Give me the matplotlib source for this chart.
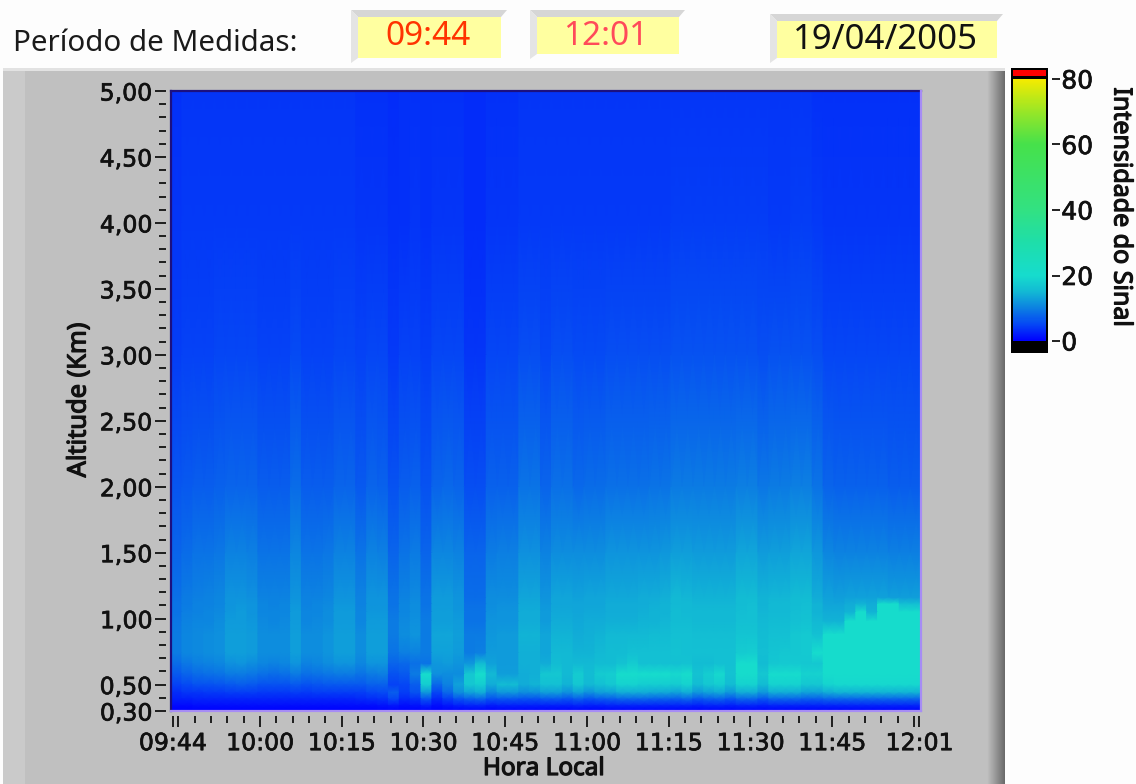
# plot.py - perfil de intensidade do sinal (painel de medidas 19/04/2005)
import numpy as np
import matplotlib
matplotlib.use('Agg')
import matplotlib.pyplot as plt
import matplotlib.patheffects as pe
from matplotlib.colors import LinearSegmentedColormap
from matplotlib.patches import Rectangle, Polygon

W, H = 1136, 784

# altitudes (km) das linhas da grade, de cima para baixo
altitudes = [5.0, 4.0, 3.0, 2.0, 1.5, 1.16, 1.11, 1.05, 0.98, 0.88, 0.74, 0.66, 0.58, 0.50, 0.44, 0.39, 0.34, 0.30]

# intensidade por coluna de ~2 min
a500 = [3.7,3.8,3.8,3.8,3.9,3.9,3.9,3.9,3.8,3.8,
        3.8,3.9,3.8,3.8,3.8,3.8,3.8,3.7,3.7,3.6,
        3.4,3.5,3.5,3.5,3.7,3.7,3.6,3.2,3.2,3.6,
        3.7,3.7,3.8,3.8,3.8,3.9,3.9,3.8,3.8,3.9,
        3.9,3.9,3.9,3.9,3.9,3.9,3.9,3.9,3.9,3.9,
        3.9,3.9,3.9,3.9,3.9,3.8,3.8,3.8,3.8,3.7,
        3.6,3.6,3.5,3.5,3.5,3.5,3.5,3.5,3.5]
a400 = [4.0,4.1,4.1,4.1,4.2,4.3,4.3,4.2,4.1,4.1,
        4.1,4.3,4.1,4.1,4.1,4.2,4.2,4.0,4.0,3.9,
        3.6,3.7,3.8,3.7,4.0,4.0,3.9,3.3,3.3,3.9,
        4.0,4.0,4.2,4.2,4.1,4.3,4.3,4.2,4.2,4.3,
        4.3,4.3,4.3,4.3,4.3,4.3,4.4,4.4,4.4,4.4,
        4.4,4.4,4.4,4.4,4.4,4.3,4.3,4.4,4.4,4.2,
        4.0,4.0,3.9,3.9,3.9,3.9,3.9,3.9,3.9]
a300 = [4.6,4.8,4.9,4.9,5.0,5.3,5.3,5.2,4.9,4.9,
        4.9,5.4,4.9,4.9,4.9,5.2,5.2,4.8,5.1,5.0,
        4.3,4.7,4.8,4.6,5.2,5.2,5.0,4.0,4.0,5.0,
        5.2,5.2,5.8,5.8,5.3,5.7,5.7,5.5,5.5,5.6,
        5.7,5.7,5.7,5.7,5.8,5.8,6.0,6.0,6.0,6.0,
        6.0,6.0,6.2,6.2,5.9,6.0,6.0,6.2,6.2,5.8,
        5.2,5.2,5.0,5.0,5.0,5.0,5.0,5.0,5.0]
a200 = [6.3,6.8,7.0,7.0,7.2,7.8,7.8,7.6,7.0,7.0,
        7.0,8.2,7.0,7.0,7.0,7.8,7.8,6.8,7.6,7.4,
        6.0,7.0,7.3,6.2,7.8,8.0,7.6,5.8,5.8,7.2,
        7.4,7.4,8.8,8.8,7.6,8.6,8.6,8.0,8.2,8.4,
        8.6,8.6,8.6,8.6,8.8,8.8,9.4,9.4,9.4,9.4,
        9.4,9.4,9.8,9.8,9.2,9.4,9.4,9.8,9.8,9.0,
        7.6,7.4,7.2,7.2,7.2,7.2,7.0,7.0,7.0]
a150 = [7.6,8.4,8.8,9.0,9.2,10.2,10.2,9.8,9.0,8.8,
        9.0,10.6,9.0,9.0,9.2,10.2,10.2,8.8,10.0,9.8,
        7.6,9.0,9.4,7.8,10.6,10.6,10.0,7.6,7.6,9.4,
        9.8,9.8,11.4,11.4,10.0,11.0,11.0,11.0,11.2,11.2,
        11.6,11.6,11.6,11.8,11.8,12.0,12.8,12.6,12.4,12.4,
        12.4,12.4,13.2,13.2,12.4,12.6,12.6,13.2,13.4,12.0,
        10.6,10.2,10.2,10.0,10.0,10.0,9.8,9.8,9.8]
a116 = [8.6,9.4,9.8,10.0,10.4,11.6,11.8,11.4,10.2,10.0,
        10.2,11.8,10.0,10.2,10.6,11.8,11.8,10.0,11.6,11.6,
        8.8,10.2,10.8,8.8,12.2,12.2,11.6,8.4,8.4,11.0,
        11.2,11.2,13.4,13.4,11.8,13.2,13.2,13.0,13.2,13.2,
        13.6,13.6,13.6,13.8,14.0,14.2,15.0,14.8,14.6,14.6,
        14.6,14.6,15.4,15.6,14.4,14.8,14.8,15.4,15.6,14.0,
        13.0,12.6,13.0,13.0,13.0,13.0,12.8,12.6,12.6]
a111 = [8.8,9.6,10.0,10.2,10.6,11.8,12.0,11.6,10.4,10.2,
        10.4,12.0,10.2,10.4,10.8,12.0,12.0,10.2,11.8,11.8,
        9.0,10.4,11.0,9.0,12.4,12.4,11.8,8.6,8.6,11.2,
        11.4,11.4,13.6,13.6,12.0,13.4,13.4,13.2,13.4,13.4,
        13.8,13.8,13.8,14.0,14.2,14.4,15.2,15.0,14.8,14.8,
        14.8,14.8,15.6,15.8,14.6,15.0,15.0,15.6,15.8,14.4,
        13.4,13.4,14.0,14.4,14.0,20.5,20.5,16.0,16.0]
a105 = [9.0,9.8,10.2,10.4,10.8,12.0,12.2,11.8,10.6,10.4,
        10.6,12.2,10.4,10.6,11.0,12.2,12.2,10.4,12.0,12.0,
        9.2,10.6,11.2,9.2,12.6,12.6,12.0,8.8,8.8,11.4,
        11.6,11.6,13.8,13.8,12.2,13.6,13.6,13.4,13.6,13.6,
        14.0,14.0,14.0,14.2,14.4,14.6,15.4,15.2,15.0,15.0,
        15.0,15.0,15.8,16.0,14.8,15.2,15.2,15.8,16.0,14.6,
        13.8,13.8,14.6,20.5,14.6,20.5,20.5,20.5,20.5]
a098 = [9.2,10.0,10.4,10.6,11.0,12.2,12.4,12.0,10.8,10.6,
        10.8,12.4,10.6,10.8,11.2,12.4,12.4,10.6,12.2,12.2,
        9.4,10.8,11.4,9.4,12.8,12.8,12.2,9.0,9.0,11.6,
        11.8,11.8,14.0,14.0,12.4,13.8,13.8,13.6,13.8,13.8,
        14.2,14.2,14.2,14.4,14.6,14.8,15.6,15.4,15.2,15.2,
        15.2,15.2,16.0,16.2,15.0,15.4,15.4,16.2,16.4,15.2,
        14.4,14.4,20.5,20.5,20.5,20.5,20.5,20.5,20.5]
a088 = [9.6,10.4,10.8,11.0,11.4,12.6,12.8,12.4,11.2,11.0,
        11.2,12.8,11.0,11.2,11.6,12.8,12.8,11.0,12.6,12.6,
        9.6,11.2,11.8,9.6,13.2,13.2,12.6,9.4,9.4,12.0,
        12.2,12.2,14.4,14.4,13.2,14.6,14.6,14.0,14.2,14.4,
        15.0,15.0,15.2,15.2,15.4,15.6,16.2,16.0,15.8,15.8,
        15.8,15.8,16.6,16.8,15.6,16.0,16.2,17.0,17.4,16.2,
        20.0,20.0,20.5,20.5,20.5,20.5,20.5,20.5,20.5]
a074 = [9.6,10.4,10.8,11.0,11.4,12.6,12.8,12.4,11.2,11.0,
        11.2,12.8,11.0,11.2,11.6,12.8,12.8,11.0,12.6,12.6,
        9.0,9.8,10.2,9.4,13.0,13.0,12.4,9.4,9.8,12.2,
        12.4,12.4,14.2,14.2,13.4,15.0,15.0,14.4,14.6,15.0,
        15.4,15.6,16.0,16.0,16.0,16.2,16.4,16.2,16.0,16.0,
        16.0,16.2,17.8,18.0,15.8,16.6,17.0,17.0,17.4,20.0,
        20.5,20.5,20.5,20.5,20.5,20.5,20.5,20.5,20.5]
a066 = [8.2,9.2,9.8,10.2,10.6,11.4,11.6,11.2,10.4,10.2,
        10.4,11.6,10.2,10.4,11.0,11.6,11.6,10.4,11.6,11.8,
        7.6,8.0,8.6,8.8,12.0,12.2,11.6,12.0,15.5,13.0,
        12.4,12.4,14.2,14.2,14.0,15.4,15.2,15.0,15.0,15.4,
        15.6,16.5,17.5,16.0,16.0,16.2,16.0,16.5,15.6,15.6,
        16.0,16.2,20.0,20.0,15.6,17.0,17.2,17.2,17.0,17.0,
        20.5,20.5,20.5,20.5,20.5,20.5,20.5,20.5,20.5]
a058 = [6.6,7.6,8.2,8.6,8.8,9.4,9.6,9.2,8.6,8.4,
        8.6,9.6,8.6,8.8,9.2,9.6,9.6,8.8,9.6,9.8,
        6.2,6.6,9.6,20.0,11.5,11.0,11.2,17.0,20.0,15.0,
        12.6,12.6,14.0,14.2,17.0,17.0,15.0,17.5,15.5,17.8,
        18.0,20.5,20.5,20.0,20.0,20.0,19.5,20.5,16.5,18.0,
        19.5,16.5,20.5,20.5,17.0,20.0,20.0,20.0,18.5,18.5,
        20.5,20.5,20.5,20.5,20.5,20.5,20.5,20.5,20.5]
a050 = [4.8,5.6,6.0,6.2,6.4,6.8,7.0,6.8,6.2,6.0,
        6.2,6.8,6.2,6.4,6.6,6.8,6.8,6.6,7.2,7.4,
        4.8,5.0,7.0,18.0,8.0,10.0,13.0,17.0,18.0,14.0,
        15.5,15.5,14.0,14.5,16.0,16.0,14.5,17.0,15.0,16.0,
        17.0,18.5,18.5,18.0,18.0,18.0,17.5,18.5,15.5,17.0,
        18.0,15.5,18.5,18.5,15.5,18.5,18.5,18.5,17.0,17.0,
        19.0,19.5,19.5,19.5,19.5,19.5,19.5,19.5,19.5]
a044 = [3.4,3.8,4.0,4.2,4.2,4.4,4.4,4.4,4.2,4.2,
        4.2,4.4,4.2,4.4,4.4,4.4,4.4,4.6,5.0,5.6,
        7.0,4.4,6.0,12.0,5.0,8.0,11.0,13.0,14.0,10.5,
        12.0,12.0,11.0,11.5,12.5,12.5,11.5,13.0,11.5,12.5,
        13.0,14.0,14.0,14.0,13.5,13.5,13.0,14.0,12.0,13.0,
        13.5,12.0,14.0,14.0,12.0,14.0,14.0,14.0,13.0,13.0,
        14.0,14.5,14.5,14.5,14.5,14.5,14.5,14.5,14.5]
a039 = [2.2,2.4,2.6,2.6,2.7,2.8,2.8,2.8,2.6,2.6,
        2.6,2.8,2.6,2.8,2.8,2.8,2.8,2.9,3.2,3.6,
        5.0,3.0,3.6,6.0,3.0,4.5,6.0,7.0,7.5,6.0,
        6.5,6.5,6.0,6.2,6.8,6.8,6.2,7.0,6.2,6.8,
        7.0,7.5,7.5,7.5,7.2,7.2,7.0,7.5,6.5,7.0,
        7.2,6.5,7.5,7.5,6.5,7.5,7.5,7.5,7.0,7.0,
        7.5,7.5,7.8,7.8,7.8,7.8,7.8,7.8,7.8]
a034 = [0.9,0.9,1.0,1.0,1.0,1.1,1.1,1.1,1.0,1.0,
        1.0,1.1,1.0,1.1,1.1,1.1,1.1,1.1,1.2,1.3,
        1.8,1.1,1.4,2.2,1.2,1.8,2.2,2.6,2.6,2.0,
        2.4,2.4,2.2,2.2,2.4,2.4,2.2,2.5,2.2,2.4,
        2.5,2.6,2.6,2.6,2.5,2.5,2.5,2.6,2.4,2.5,
        2.5,2.4,2.6,2.6,2.4,2.6,2.6,2.6,2.5,2.5,
        2.6,2.6,2.8,2.8,2.8,2.8,2.8,2.8,2.8]
a030 = [0.2,0.2,0.2,0.2,0.2,0.2,0.2,0.2,0.2,0.2,
        0.2,0.2,0.2,0.2,0.2,0.2,0.2,0.2,0.2,0.2,
        0.3,0.2,0.2,0.3,0.2,0.3,0.3,0.3,0.3,0.3,
        0.3,0.3,0.3,0.3,0.3,0.3,0.3,0.3,0.3,0.3,
        0.3,0.3,0.3,0.3,0.3,0.3,0.3,0.3,0.3,0.3,
        0.3,0.3,0.3,0.3,0.3,0.3,0.3,0.3,0.3,0.3,
        0.3,0.3,0.3,0.3,0.3,0.3,0.3,0.3,0.3]
linhas = [a500, a400, a300, a200, a150, a116, a111, a105, a098, a088,
          a074, a066, a058, a050, a044, a039, a034, a030]

y_ticks = [0.3, 0.5, 1.0, 1.5, 2.0, 2.5, 3.0, 3.5, 4.0, 4.5, 5.0]
y_labels = ['0,30', '0,50', '1,00', '1,50', '2,00', '2,50', '3,00', '3,50', '4,00', '4,50', '5,00']
x_labels = ['09:44', '10:00', '10:15', '10:30', '10:45', '11:00', '11:15', '11:30', '11:45', '12:01']
cb_ticks = [0, 20, 40, 60, 80]

def minutos(s):
    h, m = s.split(':')
    return int(h)*60 + int(m)

cmap = LinearSegmentedColormap.from_list('sinal', [
    (0/80, (0, 0, 1)), (5/80, (5/255, 70/255, 245/255)), (10/80, (12/255, 130/255, 225/255)),
    (15/80, (18/255, 185/255, 212/255)), (20/80, (22/255, 220/255, 205/255)),
    (30/80, (30/255, 222/255, 170/255)), (40/80, (50/255, 225/255, 130/255)),
    (60/80, (70/255, 225/255, 75/255)), (70/80, (150/255, 230/255, 40/255)),
    (80/80, (245/255, 235/255, 0))])

fig = plt.figure(figsize=(W/100, H/100), dpi=100, facecolor='#fdfdfd')
grosso = [pe.withStroke(linewidth=0.5, foreground='#111111')]
negrito = [pe.withStroke(linewidth=0.9, foreground='#111111')]

def px_axes(x0, y0, x1, y1):
    return fig.add_axes([x0/W, 1-y1/H, (x1-x0)/W, (y1-y0)/H])

# fundo do painel, em pixels
bg = fig.add_axes([0, 0, 1, 1], zorder=-1)
bg.set_xlim(0, W)
bg.set_ylim(H, 0)
bg.axis('off')
bg.add_patch(Rectangle((3, 68), 1002, H-68, color='#c0c0c0', lw=0))
bg.add_patch(Rectangle((3, 68), 1002, 3, color='#e2e2e2', lw=0))
bg.add_patch(Rectangle((3, 71), 22, H-71, color='#cacaca', lw=0))
for i, g in enumerate(np.linspace(0.75, 0.42, 18)):
    bg.add_patch(Rectangle((987+i, 71), 1.2, H-71, color=str(g), lw=0))

def caixa(x0, y0, x1, y1):
    bg.add_patch(Polygon([(x0-7, y0-7), (x1+6, y0-7), (x1, y0), (x0, y0)], color='#d6d6d6', lw=0))
    bg.add_patch(Polygon([(x0-7, y0-7), (x0, y0), (x0, y1), (x0-7, y1+5)], color='#e4e4e4', lw=0))
    bg.add_patch(Rectangle((x0, y0), x1-x0, y1-y0, color='#ffffa0', lw=0))

caixa(358, 17, 501, 58)
caixa(537, 17, 679, 54)
caixa(777, 21, 997, 58)
bg.text(13, 43, 'Período de Medidas:', fontsize=21.3, family='Noto Sans', color='#1a1a1a', ha='left', va='center')
bg.text(428, 36, '09:44', fontsize=24, family='Noto Sans', color='#ff3300', ha='center', va='center')
bg.text(606, 36, '12:01', fontsize=24, family='Noto Sans', color='#ff4a5a', ha='center', va='center')
bg.text(885, 40, '19/04/2005', fontsize=25, family='Noto Sans', color='#111111', ha='center', va='center')

# grafico principal
ax = px_axes(171, 91, 921, 711)
x_min, x_max = 583.67, 721.3
bordas = np.linspace(x_min, x_max, len(a500)+1)
X = np.repeat(bordas, 2)[1:-1]
Z = np.repeat(np.array(linhas), 2, axis=1)
mesh = ax.pcolormesh(X, np.array(altitudes), Z, cmap=cmap, vmin=0, vmax=80, shading='gouraud')
ax.set_xlim(x_min, x_max)
ax.set_ylim(0.3, 5.0)

ax.spines['left'].set_position(('outward', 3.5))
ax.spines['bottom'].set_position(('outward', 3.5))
for s in ax.spines.values():
    s.set_visible(False)
ax.plot([x_min, x_min], [0.3, 5.0], color='#1c1080', lw=1.6, clip_on=False)
ax.plot([x_min, x_max], [5.0, 5.0], color='#1c1080', lw=1.6, clip_on=False)
ax.plot([x_max, x_max], [0.3, 5.0], color='#a68cf5', lw=1.6, clip_on=False)
ax.plot([x_min, x_max], [0.3, 0.3], color='#a68cf5', lw=1.6, clip_on=False)

ax.set_yticks(y_ticks)
ax.set_yticklabels(y_labels)
ax.set_yticks(np.arange(0.4, 5.0, 0.1), minor=True)
x_pos = [minutos(s) for s in x_labels]
ax.set_xticks(x_pos + [minutos('09:45'), minutos('12:00')])
ax.set_xticklabels(x_labels + ['', ''])
ax.set_xticks(np.arange(minutos('09:48'), minutos('12:00'), 3), minor=True)
ax.tick_params(axis='both', which='major', length=8, width=1.3, labelsize=17, color='#111111', labelcolor='#111111')
ax.tick_params(axis='both', which='minor', length=5, width=1.3, color='#111111')
ax.tick_params(axis='y', which='major', pad=2)
ax.tick_params(axis='x', which='major', pad=3)
for t in ax.get_xticklabels() + ax.get_yticklabels():
    t.set_path_effects(grosso)
bg.text(544, 769, 'Hora Local', fontsize=17.5, color='#111111', ha='center', va='center', family='Noto Sans', path_effects=negrito)
bg.text(79, 400, 'Altitude (Km)', fontsize=18.3, color='#111111', rotation=90, ha='center', va='center', family='Noto Sans', path_effects=negrito)

# barra de cores
bg.add_patch(Rectangle((1011, 68), 37, 285, color='black', lw=0))
bg.add_patch(Rectangle((1013, 70), 33, 6, color='#ff0000', lw=0))
cax = px_axes(1013, 79, 1046, 341)
cb = fig.colorbar(mesh, cax=cax, ticks=cb_ticks)
cb.outline.set_visible(False)
cax.spines['right'].set_position(('outward', 4))
cax.tick_params(axis='y', length=6, width=1.3, labelsize=18, pad=1, color='#111111', labelcolor='#111111')
for t in cax.get_yticklabels():
    t.set_path_effects(grosso)
bg.text(1121, 207, 'Intensidade do Sinal', fontsize=18, color='#111111', rotation=-90, ha='center', va='center', family='Noto Sans', path_effects=negrito)

plt.savefig('out.png', dpi=100, facecolor=fig.get_facecolor())
plt.close()
